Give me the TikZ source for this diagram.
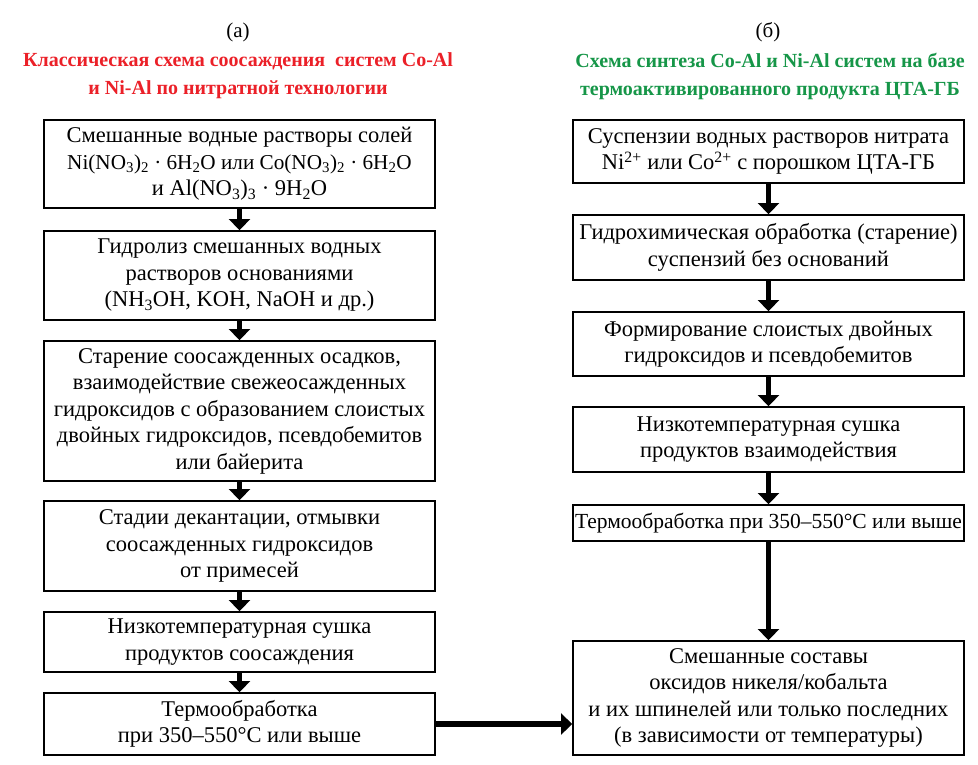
\documentclass[tikz,border=0pt]{standalone}
\usepackage{fontspec}
\setmainfont{Liberation Serif}
\usetikzlibrary{arrows.meta}
\definecolor{tred}{RGB}{235,32,40}
\definecolor{tgreen}{RGB}{22,150,72}
\begin{document}
\begin{tikzpicture}[x=1pt,y=-1pt,
  box/.style={draw, line width=1.8pt, align=center, minimum width=391pt, inner sep=0pt,
    font=\fontsize{22.5}{26.5}\selectfont},
  flow/.style={line width=5.5pt, -{Triangle[width=21pt,length=11pt]}},
  ttl/.style={align=center, font=\fontsize{20}{28}\selectfont\bfseries},
  lbl/.style={font=\fontsize{21}{24}\selectfont}]
\useasboundingbox (0,0) rectangle (978,764);
% labels and titles
\node[lbl] (la) at (238,32) {(a)};
\node[lbl] (lb) at (768,32) {(б)};
\node[ttl, text=tred] (ta) at (238,76) {Классическая схема соосаждения\ \ систем Co-Al\\и Ni-Al по нитратной технологии};
\node[ttl, text=tgreen] (tb) at (770,76) {Схема синтеза Co-Al и Ni-Al систем на базе\\термоактивированного продукта ЦТА-ГБ};
% left column
\node[box, minimum height=88pt] (L1) at (239.5,164) {Смешанные водные растворы солей\\{\fontsize{21.2}{26.5}\selectfont Ni(NO\textsubscript{3})\textsubscript{2} · 6H\textsubscript{2}O или Co(NO\textsubscript{3})\textsubscript{2} · 6H\textsubscript{2}O}\\и Al(NO\textsubscript{3})\textsubscript{3} · 9H\textsubscript{2}O};
\node[box, minimum height=89pt] (L2) at (239.5,275.5) {Гидролиз смешанных водных\\растворов основаниями\\(NH\textsubscript{3}OH, KOH, NaOH и др.)};
\node[box, minimum height=140pt] (L3) at (239.5,411) {Старение соосажденных осадков,\\взаимодействие свежеосажденных\\гидроксидов с образованием слоистых\\двойных гидроксидов, псевдобемитов\\или байерита};
\node[box, minimum height=90pt] (L4) at (239.5,546) {Стадии декантации, отмывки\\соосажденных гидроксидов\\от примесей};
\node[box, minimum height=60pt] (L5) at (239.5,642) {Низкотемпературная сушка\\продуктов соосаждения};
\node[box, minimum height=62pt] (L6) at (239.5,724) {Термообработка\\при 350–550°C или выше};
% right column
\node[box, minimum height=63pt] (R1) at (768.5,151.5) {Суспензии водных растворов нитрата\\Ni\textsuperscript{2+} или Co\textsuperscript{2+} с порошком ЦТА-ГБ};
\node[box, minimum height=65pt] (R2) at (768.5,247.5) {Гидрохимическая обработка (старение)\\суспензий без оснований};
\node[box, minimum height=64pt] (R3) at (768.5,344) {Формирование слоистых двойных\\гидроксидов и псевдобемитов};
\node[box, minimum height=65pt] (R4) at (768.5,439.5) {Низкотемпературная сушка\\продуктов взаимодействия};
\node[box, minimum height=36pt, font=\fontsize{21.5}{26.5}\selectfont] (R5) at (768.5,523) {Термообработка при 350–550°C или выше};
\node[box, minimum height=114pt] (R6) at (768.5,698) {Смешанные составы\\оксидов никеля/кобальта\\и их шпинелей или только последних\\(в зависимости от температуры)};
% arrows
\draw[flow] (L1) -- (L2);
\draw[flow] (L2) -- (L3);
\draw[flow] (L3) -- (L4);
\draw[flow] (L4) -- (L5);
\draw[flow] (L5) -- (L6);
\draw[flow] (R1) -- (R2);
\draw[flow] (R2) -- (R3);
\draw[flow] (R3) -- (R4);
\draw[flow] (R4) -- (R5);
\draw[flow] (R5) -- (R6);
\draw[flow] (L6.east) -- (L6.east -| R6.west);
\end{tikzpicture}
\end{document}
